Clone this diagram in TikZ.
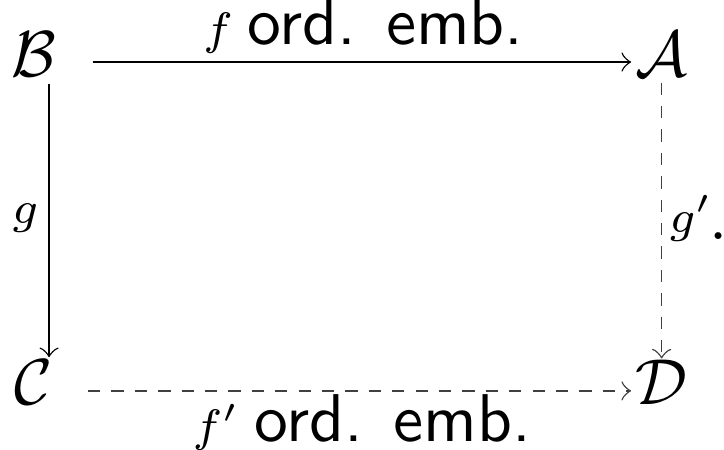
\documentclass[tikz,border=0pt]{standalone}
\usepackage{amsmath}
\usepackage{amssymb}
\usetikzlibrary{arrows,calc}

\newcommand{\ordemb}{\hspace{2.2pt}\textsf{\fontsize{10.4}{12}\selectfont ord. emb.}}

\begin{document}
\begin{tikzpicture}[->,>=to,line width=0.22pt,x=1pt,y=1pt,
      obj/.style={inner sep=0pt,anchor=base},
      lbl/.style={inner sep=1.2pt},
      broken/.style={dash pattern=on 1.9pt off 1.7pt,draw=black!75}]
      \useasboundingbox (0,0) rectangle (111.4,69.1);
      \node[obj] (b) at (5.2,57.4) {$\mathcal{B}$};
      \node[obj] (a) at (101.8,57.4) {$\mathcal{A}$};
      \node[obj] (c) at (5.2,6.8) {$\mathcal{C}$};
      \node[obj] (d) at (101.8,6.8) {$\mathcal{D}$};
      \node[obj] (stop) at (110.6,32.2) {.};

      \path
      (b.mid east) edge [shorten <=5.5pt,shorten >=0.6pt]
        node [above,lbl,pos=0.53] {$\scriptstyle f$\ordemb} (a.mid west)
      (c.mid east) edge [broken,shorten <=5.3pt,shorten >=0.6pt]
        node [below,inner sep=0pt,yshift=-0.5pt,pos=0.53] {$\scriptstyle f'$\ordemb} (d.mid west)
      ([xshift=2.35pt]b.south) edge [shorten <=1.1pt,shorten >=0.4pt]
        node [left,inner sep=1.5pt] {$\scriptstyle g$} ([xshift=2.35pt]c.north)
      (a.south) edge [broken,shorten <=0.9pt,shorten >=0.2pt]
        node [right,inner sep=1pt] {$\scriptstyle g'$} (d.north)
      ;
      \end{tikzpicture}
\end{document}
